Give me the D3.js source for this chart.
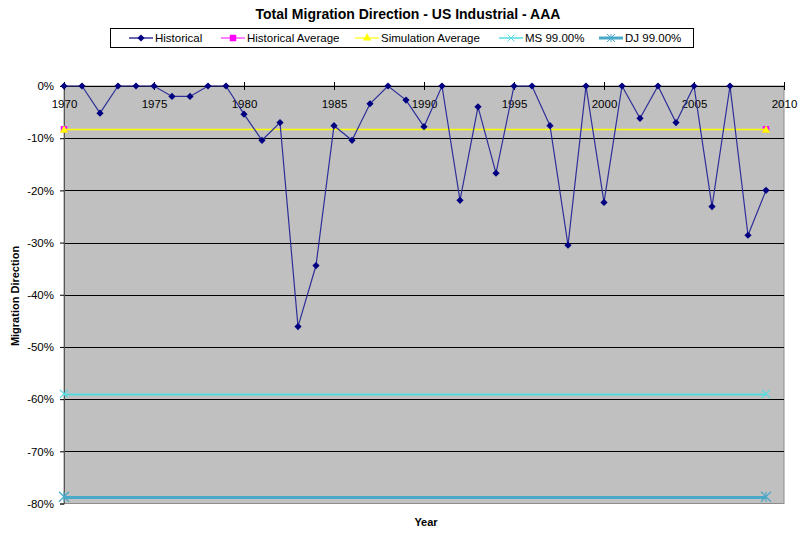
<!DOCTYPE html>
<html>
<head>
<meta charset="utf-8">
<script src="https://cdn.jsdelivr.net/npm/d3@7/dist/d3.min.js"></script>
<style>
html,body{margin:0;padding:0;background:#fff;}
svg{display:block;font-family:"Liberation Sans",Arial,sans-serif;}
</style>
</head>
<body>
<svg id="chart" width="800" height="534"></svg>
<script>
// ---- data ----
const years = [1970,1971,1972,1973,1974,1975,1976,1977,1978,1979,
               1980,1981,1982,1983,1984,1985,1986,1987,1988,1989,
               1990,1991,1992,1993,1994,1995,1996,1997,1998,1999,
               2000,2001,2002,2003,2004,2005,2006,2007,2008,2009];
const historical = [0,0,-0.052,0,0,0,-0.020,-0.020,0,0,
                    -0.054,-0.104,-0.070,-0.461,-0.344,-0.076,-0.104,-0.034,0,-0.027,
                    -0.078,0,-0.219,-0.040,-0.167,0,0,-0.076,-0.305,0,
                    -0.223,0,-0.062,0,-0.070,0,-0.231,0,-0.286,-0.200];
const avgYears = [1970, 2009];
const historicalAverage = [-0.083, -0.083];
const simulationAverage = [-0.083, -0.083];
const ms99 = [-0.590, -0.590];
const dj99 = [-0.787, -0.787];
const xTicks = [1970,1975,1980,1985,1990,1995,2000,2005,2010];
const yTicks = [0,-0.1,-0.2,-0.3,-0.4,-0.5,-0.6,-0.7,-0.8];
const legendLabels = ["Historical","Historical Average","Simulation Average","MS 99.00%","DJ 99.00%"];

// ---- layout ----
const svg = d3.select("#chart");
const L = 64, R = 784, T = 86, B = 503.5;
const x = d3.scaleLinear().domain([1970, 2010]).range([L, R]);
const y = d3.scaleLinear().domain([-0.8, 0]).range([B, T]);
const pct = d3.format(".0%");
const fmt = d => pct(d).replace("\u2212", "-");

// plot background
svg.append("rect").attr("x", L).attr("y", T).attr("width", R - L).attr("height", B - T)
  .attr("fill", "#C0C0C0").attr("stroke", "#8c8c8c").attr("stroke-width", 1);

// gridlines
svg.append("g").selectAll("line").data(yTicks.filter(d => d !== 0 && d !== -0.8)).join("line")
  .attr("x1", L).attr("x2", R)
  .attr("y1", d => Math.round(y(d)) + 0.5).attr("y2", d => Math.round(y(d)) + 0.5)
  .attr("stroke", "#000").attr("stroke-width", 1);

// y axis
const yAxis = svg.append("g").attr("transform", `translate(${L},0)`)
  .call(d3.axisLeft(y).tickValues(yTicks).tickFormat(fmt).tickSize(4).tickPadding(6));
yAxis.select(".domain").attr("stroke", "#555");
yAxis.selectAll(".tick line").attr("stroke", "#000");
yAxis.selectAll("text").attr("font-size", 11.5).attr("fill", "#000")
  .attr("font-family", "Liberation Sans, Arial, sans-serif");

// x axis (at 0%, labels below)
const xAxis = svg.append("g").attr("transform", `translate(0,${T})`)
  .call(d3.axisBottom(x).tickValues(xTicks).tickFormat(d3.format("d")).tickSize(0).tickPadding(14));
xAxis.select(".domain").attr("stroke", "#000");
xAxis.selectAll(".tick line").attr("y1", -4).attr("y2", 4).attr("stroke", "#000");
xAxis.selectAll("text").attr("font-size", 11.5).attr("fill", "#000")
  .attr("font-family", "Liberation Sans, Arial, sans-serif");

// symbols
const diamond = d3.symbol().type(d3.symbolSquare).size(26);
const square = d3.symbol().type(d3.symbolSquare).size(42);
const triangle = d3.symbol().type(d3.symbolTriangle).size(30);
const line = d3.line().x(d => x(d[0])).y(d => Math.round(y(d[1])) + 0.5);

function drawX(g, cx, cy, s, color, w) {
  g.append("line").attr("x1", cx - s).attr("x2", cx + s).attr("y1", cy - s).attr("y2", cy + s)
    .attr("stroke", color).attr("stroke-width", w);
  g.append("line").attr("x1", cx - s).attr("x2", cx + s).attr("y1", cy + s).attr("y2", cy - s)
    .attr("stroke", color).attr("stroke-width", w);
}
function drawStar(g, cx, cy, s, color, w) {
  drawX(g, cx, cy, s, color, w);
  g.append("line").attr("x1", cx).attr("x2", cx).attr("y1", cy - s).attr("y2", cy + s)
    .attr("stroke", color).attr("stroke-width", w);
}

// DJ 99%
const djData = avgYears.map((yr, i) => [yr, dj99[i]]);
svg.append("path").attr("d", line(djData)).attr("fill", "none").attr("stroke", "#4BA9C8").attr("stroke-width", 3);
const djg = svg.append("g");
djData.forEach(d => drawStar(djg, x(d[0]), y(d[1]), 5, "#4BA9C8", 1.2));

// MS 99%
const msData = avgYears.map((yr, i) => [yr, ms99[i]]);
svg.append("path").attr("d", line(msData)).attr("fill", "none").attr("stroke", "#55DCE0").attr("stroke-width", 2);
const msg = svg.append("g");
msData.forEach(d => drawX(msg, x(d[0]), y(d[1]), 4, "#55DCE0", 1.2));

// Historical average
const haData = avgYears.map((yr, i) => [yr, historicalAverage[i]]);
svg.append("path").attr("d", line(haData)).attr("fill", "none").attr("stroke", "#FF00FF").attr("stroke-width", 1);
svg.append("g").selectAll("path").data(haData).join("path")
  .attr("d", square).attr("transform", d => `translate(${x(d[0])},${y(d[1])})`).attr("fill", "#FF00FF");

// Simulation average
const saData = avgYears.map((yr, i) => [yr, simulationAverage[i]]);
svg.append("path").attr("d", line(saData)).attr("fill", "none").attr("stroke", "#FFFF00").attr("stroke-width", 1.5);
svg.append("g").selectAll("path").data(saData).join("path")
  .attr("d", triangle).attr("transform", d => `translate(${x(d[0])},${y(d[1]) + 1})`).attr("fill", "#FFFF00");

// Historical
const hData = years.map((yr, i) => [yr, historical[i]]);
svg.append("path").attr("d", d3.line().x(d => x(d[0])).y(d => y(d[1]))(hData))
  .attr("fill", "none").attr("stroke", "#2E2E9A").attr("stroke-width", 1.2);
svg.append("g").selectAll("path").data(hData).join("path")
  .attr("d", diamond).attr("transform", d => `translate(${x(d[0])},${y(d[1])}) rotate(45)`).attr("fill", "#000080");

// title
svg.append("text").attr("x", 408).attr("y", 19).attr("text-anchor", "middle")
  .attr("font-size", 14).attr("font-weight", "bold").text("Total Migration Direction - US Industrial - AAA");

// axis titles
svg.append("text").attr("x", 426).attr("y", 526).attr("text-anchor", "middle")
  .attr("font-size", 11).attr("font-weight", "bold").text("Year");
svg.append("text").attr("transform", "translate(19,296) rotate(-90)").attr("text-anchor", "middle")
  .attr("font-size", 11).attr("font-weight", "bold").text("Migration Direction");

// legend
svg.append("rect").attr("x", 110.5).attr("y", 28.5).attr("width", 583).attr("height", 19)
  .attr("fill", "#fff").attr("stroke", "#000").attr("stroke-width", 1);
const legX = [129, 221, 355, 499, 599];
const legColors = ["#000080", "#FF00FF", "#FFFF00", "#55DCE0", "#4BA9C8"];
const legW = [1.2, 1, 1.2, 1.5, 3];
const ly = 38;
const lg = svg.append("g");
legendLabels.forEach((lab, i) => {
  const x0 = legX[i];
  lg.append("line").attr("x1", x0).attr("x2", x0 + 24).attr("y1", ly).attr("y2", ly)
    .attr("stroke", legColors[i]).attr("stroke-width", legW[i]);
  const cx = x0 + 12;
  if (i === 0) lg.append("path").attr("d", diamond).attr("transform", `translate(${cx},${ly}) rotate(45)`).attr("fill", "#000080");
  if (i === 1) lg.append("path").attr("d", square).attr("transform", `translate(${cx},${ly})`).attr("fill", "#FF00FF");
  if (i === 2) lg.append("path").attr("d", triangle).attr("transform", `translate(${cx},${ly})`).attr("fill", "#FFFF00");
  if (i === 3) drawX(lg, cx, ly, 3.5, "#55DCE0", 1);
  if (i === 4) drawStar(lg, cx, ly, 4, "#4BA9C8", 1);
  lg.append("text").attr("x", x0 + 26).attr("y", ly + 4).attr("font-size", 11.5).attr("fill", "#000").text(lab);
});
</script>
</body>
</html>
